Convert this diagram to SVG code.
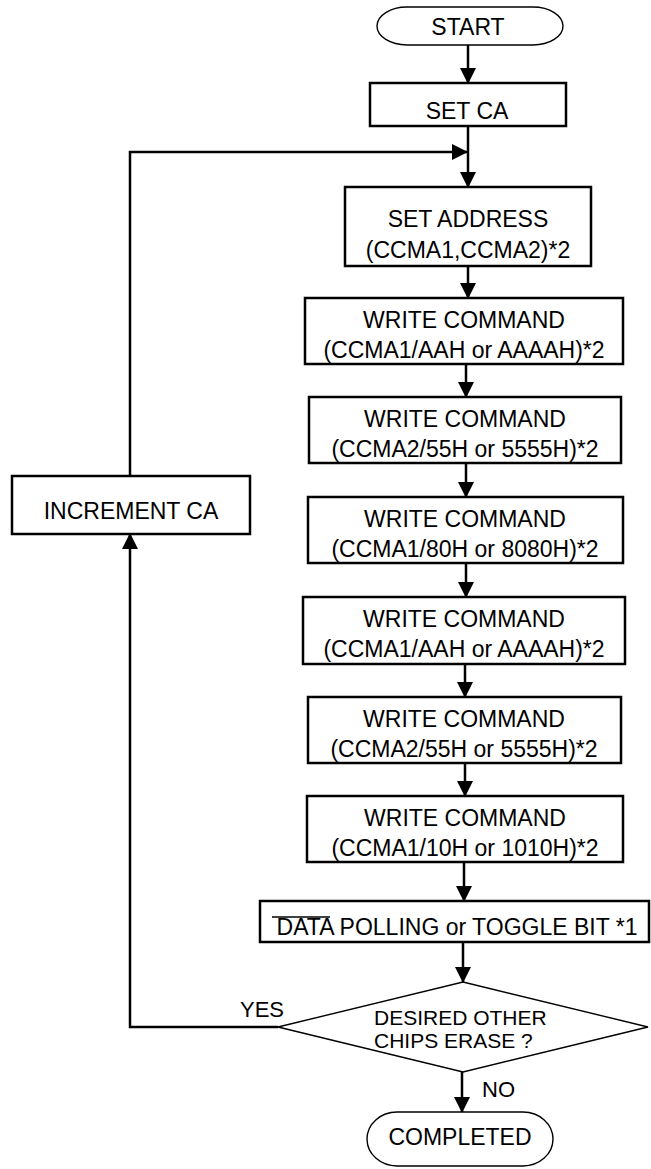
<svg xmlns="http://www.w3.org/2000/svg" width="651" height="1169" viewBox="0 0 651 1169">
<style>
.box{fill:#fff;stroke:#000;stroke-width:2.5}
.thin{fill:#fff;stroke:#000;stroke-width:1.4}
.ln{fill:none;stroke:#000;stroke-width:2.5}
text{font-family:"Liberation Sans",Arial,sans-serif;font-size:23px;fill:#000}
.c{text-anchor:middle}
.s{font-size:21px}
</style>
<defs>
<marker id="ah" markerUnits="userSpaceOnUse" markerWidth="16" markerHeight="16" refX="15" refY="8" orient="auto" viewBox="0 0 16 16">
<path d="M0,0 L16,8 L0,16 z" fill="#000"/>
</marker>
</defs>
<g id="connectors">
<line class="ln" x1="468" y1="45" x2="468" y2="83" marker-end="url(#ah)"/>
<line class="ln" x1="468" y1="126" x2="468" y2="187" marker-end="url(#ah)"/>
<polyline class="ln" points="130,476 130,152 467,152" marker-end="url(#ah)"/>
<line class="ln" x1="468" y1="266" x2="468" y2="298" marker-end="url(#ah)"/>
<line class="ln" x1="466" y1="364" x2="466" y2="397" marker-end="url(#ah)"/>
<line class="ln" x1="466" y1="463" x2="466" y2="497" marker-end="url(#ah)"/>
<line class="ln" x1="466" y1="563" x2="466" y2="597" marker-end="url(#ah)"/>
<line class="ln" x1="465" y1="664" x2="465" y2="697" marker-end="url(#ah)"/>
<line class="ln" x1="465" y1="763" x2="465" y2="796" marker-end="url(#ah)"/>
<line class="ln" x1="464" y1="862" x2="464" y2="901" marker-end="url(#ah)"/>
<line class="ln" x1="463" y1="942" x2="463" y2="982" marker-end="url(#ah)"/>
<polyline class="ln" points="278,1027 130,1027 130,534" marker-end="url(#ah)"/>
<line class="ln" x1="462" y1="1072" x2="462" y2="1112" marker-end="url(#ah)"/>
<text x="240" y="1017" style="font-size:22px">YES</text>
<text x="482" y="1097" style="font-size:22px">NO</text>
</g>
<g id="start">
<rect class="thin" x="377" y="7" width="186" height="38" rx="30" ry="19"/>
<text class="c" x="468" y="35">START</text>
</g>
<g id="set-ca">
<rect class="box" x="370" y="83" width="196" height="43"/>
<text class="c" x="467" y="119">SET CA</text>
</g>
<g id="set-address">
<rect class="box" x="345" y="187" width="246" height="79"/>
<text class="c" x="468" y="227">SET ADDRESS</text>
<text class="c" x="468" y="258">(CCMA1,CCMA2)*2</text>
</g>
<g id="wc1">
<rect class="box" x="305" y="298" width="318" height="66"/>
<text class="c" x="464" y="328">WRITE COMMAND</text>
<text class="c" x="464" y="358">(CCMA1/AAH or AAAAH)*2</text>
</g>
<g id="wc2">
<rect class="box" x="309" y="397" width="312" height="66"/>
<text class="c" x="465" y="427">WRITE COMMAND</text>
<text class="c" x="465" y="457">(CCMA2/55H or 5555H)*2</text>
</g>
<g id="wc3">
<rect class="box" x="308" y="497" width="315" height="66"/>
<text class="c" x="465" y="527">WRITE COMMAND</text>
<text class="c" x="465" y="557">(CCMA1/80H or 8080H)*2</text>
</g>
<g id="wc4">
<rect class="box" x="303" y="597" width="322" height="67"/>
<text class="c" x="464" y="627">WRITE COMMAND</text>
<text class="c" x="464" y="657">(CCMA1/AAH or AAAAH)*2</text>
</g>
<g id="wc5">
<rect class="box" x="308" y="697" width="313" height="66"/>
<text class="c" x="464" y="727">WRITE COMMAND</text>
<text class="c" x="464" y="757">(CCMA2/55H or 5555H)*2</text>
</g>
<g id="wc6">
<rect class="box" x="307" y="796" width="316" height="66"/>
<text class="c" x="465" y="826">WRITE COMMAND</text>
<text class="c" x="465" y="856">(CCMA1/10H or 1010H)*2</text>
</g>
<g id="polling">
<rect class="box" x="260" y="901" width="389" height="41"/>
<text class="c" x="457" y="935">DATA POLLING or TOGGLE BIT *1</text>
<line x1="272" y1="917" x2="330" y2="917" stroke="#000" stroke-width="1.5"/>
</g>
<g id="decision">
<polygon class="thin" points="463,982 648,1027 463,1072 278,1027"/>
<text class="s" x="374" y="1025">DESIRED OTHER</text>
<text class="s" x="374" y="1048">CHIPS ERASE ?</text>
</g>
<g id="increment">
<rect class="box" x="12" y="476" width="238" height="58"/>
<text class="c" x="131" y="519">INCREMENT CA</text>
</g>
<g id="completed">
<rect class="thin" x="367" y="1112" width="186" height="54" rx="30" ry="27"/>
<text class="c" x="460" y="1145">COMPLETED</text>
</g>
</svg>
